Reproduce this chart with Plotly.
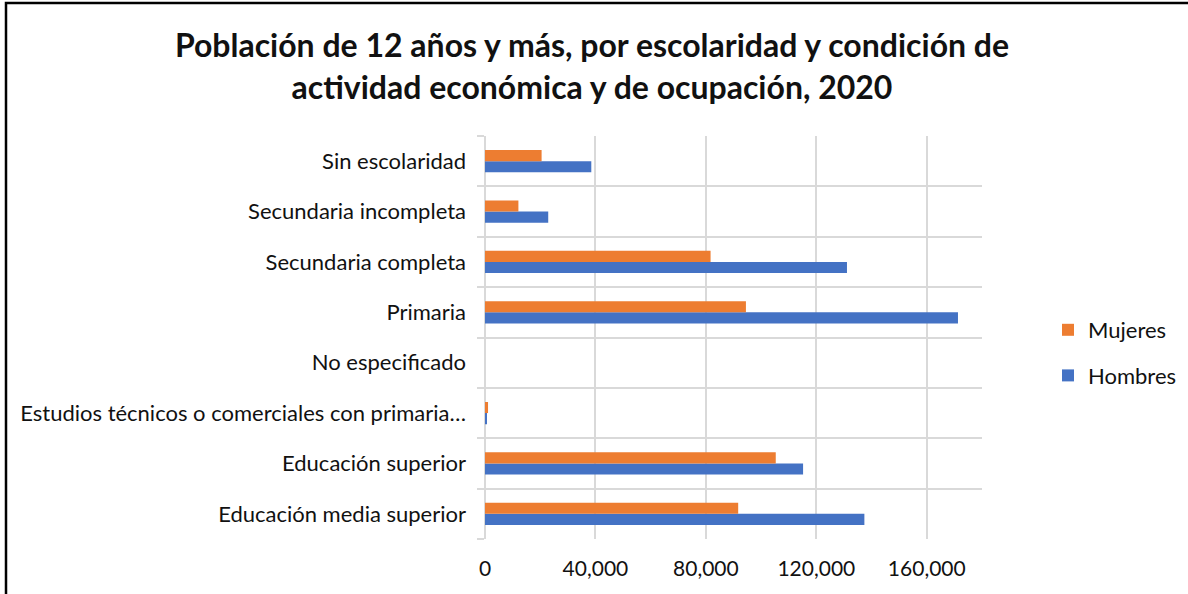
import plotly.graph_objects as go

categories = [
    "Educación media superior",
    "Educación superior",
    "Estudios técnicos o comerciales con primaria…",
    "No especificado",
    "Primaria",
    "Secundaria completa",
    "Secundaria incompleta",
    "Sin escolaridad",
]
hombres = [137400, 115200, 500, 0, 171300, 131100, 22900, 38500]
mujeres = [91700, 105300, 1100, 0, 94500, 81700, 12100, 20500]
x_ticks = [0, 40000, 80000, 120000, 160000]
x_tick_labels = ["0", "40,000", "80,000", "120,000", "160,000"]

FONT = "Lato"
TXT = "#111111"

fig = go.Figure()
fig.add_trace(go.Bar(
    y=categories, x=hombres, name="Hombres", orientation="h",
    marker=dict(color="#4472C4", line=dict(width=0)), legendgroup="h",
    legendrank=2,
))
fig.add_trace(go.Bar(
    y=categories, x=mujeres, name="Mujeres", orientation="h",
    marker=dict(color="#ED7D31", line=dict(width=0)), legendgroup="m",
    legendrank=1,
))

W, H = 1188, 594
L, R, T, B = 485, 206, 136, 55
pw, ph = W - L - R, H - T - B

def px_x(x):
    return (x - L) / pw

def px_y(y):
    return (H - B - y) / ph

fig.update_layout(
    width=W, height=H,
    margin=dict(l=L, r=R, t=T, b=B, autoexpand=False),
    paper_bgcolor="white", plot_bgcolor="white",
    barmode="group", bargap=0.56, bargroupgap=0,
    font=dict(family=FONT, color=TXT, size=22),
    title=dict(
        text="<b>Población de 12 años y más, por escolaridad y condición de<br>actividad económica y de ocupación, 2020</b>",
        x=592 / W, xref="container", xanchor="center",
        y=1 - 57 / H, yanchor="middle", yref="container",
        font=dict(family=FONT, size=32, color="#111111"),
    ),
    legend=dict(
        x=px_x(1048), y=px_y(309), xanchor="left", yanchor="top",
        traceorder="grouped", tracegroupgap=14,
        font=dict(size=22, family=FONT, color=TXT),
        bgcolor="rgba(0,0,0,0)", itemwidth=30,
    ),
    xaxis=dict(
        range=[0, 180000], tickvals=x_ticks, ticktext=x_tick_labels,
        showgrid=True, gridcolor="#d9d9d9", gridwidth=1.5,
        zeroline=True, zerolinecolor="#d9d9d9", zerolinewidth=1.5,
        showline=False, ticks="", ticklabelstandoff=15,
        tickfont=dict(size=21, family=FONT, color=TXT),
        fixedrange=True,
    ),
    yaxis=dict(
        type="category", categoryorder="array", categoryarray=categories,
        tickson="boundaries", ticks="outside", ticklen=7, tickcolor="#d9d9d9",
        tickwidth=1.5,
        showgrid=True, gridcolor="#d9d9d9", gridwidth=1.5,
        showline=False, ticklabelstandoff=18,
        tickfont=dict(size=22, family=FONT, color=TXT),
        fixedrange=True,
    ),
    shapes=[dict(
        type="rect", xref="paper", yref="paper",
        x0=px_x(6), x1=px_x(W + 20), y0=px_y(H + 20), y1=px_y(3),
        line=dict(color="black", width=2.5), fillcolor="rgba(0,0,0,0)",
        layer="above",
    )],
)

fig.write_html(
    "out.html",
    config={"displayModeBar": False},
    post_script="document.body.style.margin='0';document.body.style.overflow='hidden';",
)
